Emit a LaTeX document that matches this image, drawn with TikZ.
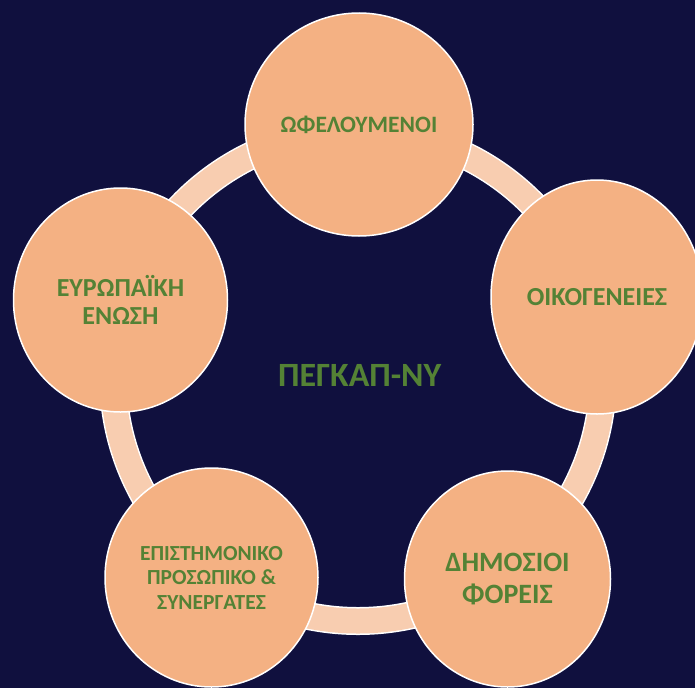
\documentclass[tikz,border=0pt]{standalone}
\usepackage{fontspec}
\setmainfont{Carlito}
\usetikzlibrary{shapes.geometric}
\definecolor{navy}{RGB}{16,16,62}
\definecolor{peach}{RGB}{244,177,131}
\definecolor{ringc}{RGB}{248,205,176}
\definecolor{leaf}{RGB}{84,130,53}
\begin{document}
\begin{tikzpicture}[x=1pt,y=-1pt,
  bubble/.style={ellipse, draw=white, line width=1.5pt, fill=peach, inner sep=0pt,
    text=leaf, font=\bfseries, align=center},
  title/.style={text=leaf, font=\bfseries\fontsize{34}{36}\selectfont, inner sep=0pt}
]
\fill[navy] (0,0) rectangle (695,688);
\useasboundingbox (0,0) rectangle (695,688);
\coordinate (c) at (358,376);
\draw[white, line width=28pt] (c) circle[radius=245pt];
\draw[ringc, line width=25pt] (c) circle[radius=245pt];
\node[bubble, minimum width=228pt, minimum height=223pt,
  font=\bfseries\fontsize{23.5}{25}\selectfont] (ben) at (359,124.5) {ΩΦΕΛΟΥΜΕΝΟΙ};
\node[bubble, minimum width=212pt, minimum height=234pt,
  font=\bfseries\fontsize{26}{28}\selectfont] (fam) at (597,297) {ΟΙΚΟΓΕΝΕΙΕΣ};
\node[bubble, minimum width=206pt, minimum height=216pt,
  font=\bfseries\fontsize{28}{32.3}\selectfont] (pub) at (507.5,579) {ΔΗΜΟΣΙΟΙ\\ΦΟΡΕΙΣ};
\node[bubble, minimum width=213pt, minimum height=219pt,
  font=\bfseries\fontsize{21.5}{24.5}\selectfont] (sci) at (211.5,577.5) {ΕΠΙΣΤΗΜΟΝΙΚΟ\\ΠΡΟΣΩΠΙΚΟ \&\\ΣΥΝΕΡΓΑΤΕΣ};
\node[bubble, minimum width=214pt, minimum height=224pt,
  font=\bfseries\fontsize{26}{27.7}\selectfont] (eu) at (120.5,300) {ΕΥΡΩΠΑΪΚΗ\\ΕΝΩΣΗ};
\node[title] (main) at (359.7,375.8) {ΠΕΓΚΑΠ-ΝΥ};
\end{tikzpicture}
\end{document}
